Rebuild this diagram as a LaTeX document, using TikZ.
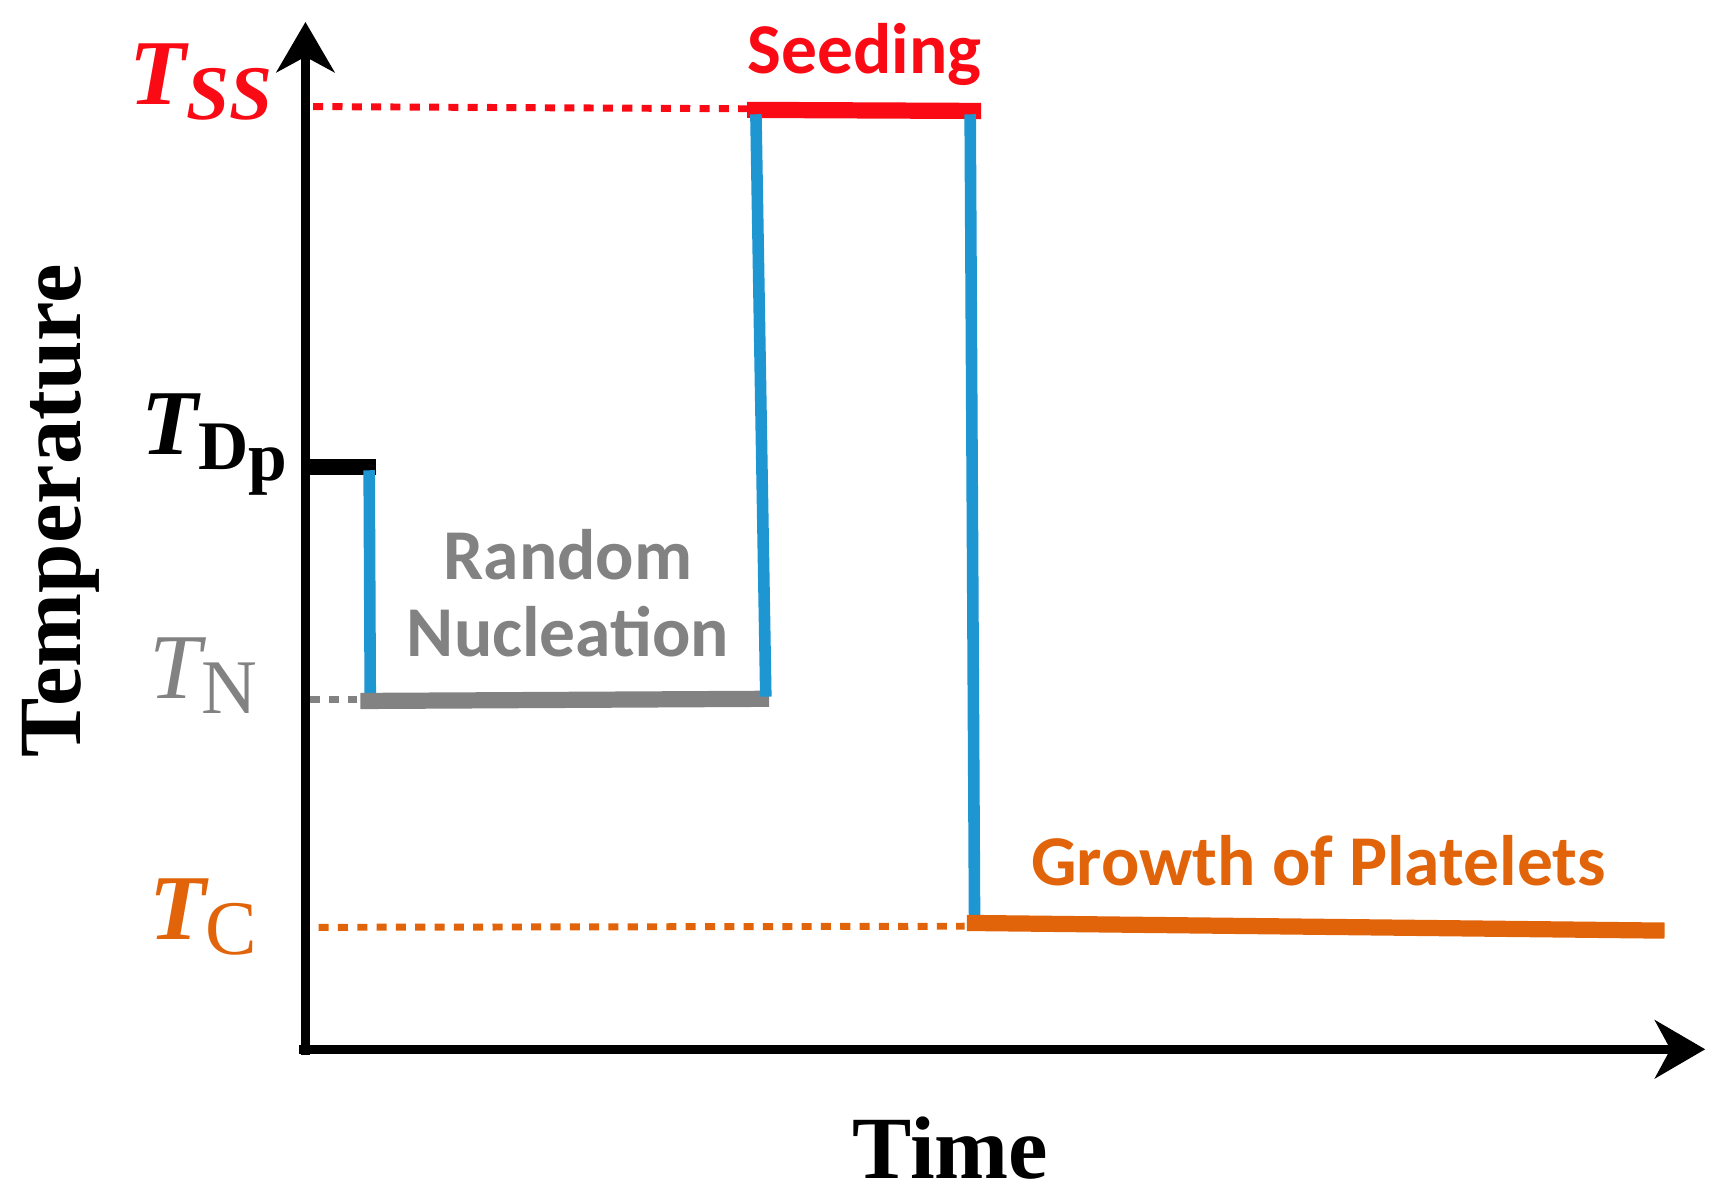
\documentclass[tikz,border=0pt]{standalone}
\usepackage{fontspec}
\setmainfont{Liberation Serif}
\newfontfamily\carl{Carlito}
\usetikzlibrary{arrows.meta}
\definecolor{cblue}{RGB}{30,150,210}
\definecolor{cred}{RGB}{250,10,20}
\definecolor{cgray}{RGB}{130,130,130}
\definecolor{corange}{RGB}{225,100,10}
\begin{document}
\begin{tikzpicture}[x=0.01cm,y=-0.01cm,
  ax/.style={line width=2.2pt,-{Stealth[length=13pt,width=15pt,inset=4pt]}},
  blu/.style={cblue,line width=3pt},
  thick seg/.style={line width=4.2pt},
  dots/.style={line width=1.8pt,dash pattern=on 2.6pt off 2.4pt},
  tl/.style={font=\bfseries\itshape\fontsize{24}{24}\selectfont},
  sl/.style={font=\carl\bfseries\fontsize{18.5}{22}\selectfont,align=center}]
\useasboundingbox (0,0) rectangle (1560,1085);
% axes
\coordinate (o) at (278,960);
\coordinate (ytop) at (278,20);
\coordinate (xend) at (1552,955);
\draw[ax] (o) -- (ytop);
\draw[ax] (272,955) -- (xend);
% levels
\coordinate (ss0) at (285,97); \coordinate (ss1) at (680,99);
\coordinate (sd0) at (680,100); \coordinate (sd1) at (893,101);
\draw[dots,cred] (ss0) -- (ss1);
\draw[thick seg,cred] (sd0) -- (sd1);
\coordinate (dp0) at (278,425); \coordinate (dp1) at (342,425);
\draw[thick seg,black] (dp0) -- (dp1);
\draw[blu] (336,428) -- (337,636);
\coordinate (n0) at (328,638); \coordinate (n1) at (700,636);
\draw[dots,cgray] (282,637) -- (325,637);
\draw[thick seg,cgray] (n0) -- (n1);
\draw[blu] (697,634) -- (688,104);
\draw[blu] (883,104) -- (887,836);
\coordinate (c0) at (290,844); \coordinate (c1) at (878,843);
\draw[dots,corange] (c0) -- (c1);
\draw[thick seg,corange] (880,840) -- (1515,847);
% labels
\node[tl,cred] (tss) at (183,75) {T\raisebox{-0.35ex}{\fontsize{20}{20}\selectfont SS}};
\node[tl] (tdp) at (195,405) {T\raisebox{-0.35ex}{\upshape\fontsize{18}{18}\selectfont D\raisebox{-0.35ex}{p}}};
\node[tl,cgray,font=\itshape\fontsize{24}{24}\selectfont] (tn) at (185,615) {T\raisebox{-0.35ex}{\upshape\fontsize{20}{20}\selectfont N}};
\node[tl,corange] (tc) at (185,835) {T\raisebox{-0.35ex}{\upshape\mdseries\fontsize{20}{20}\selectfont C}};
\node[sl,cred] (seed) at (787,50) {Seeding};
\node[sl,cgray] (rn) at (517,540) {Random\\[-2pt]Nucleation};
\node[sl,corange] (gp) at (1200,783) {Growth of Platelets};
\node[font=\bfseries\fontsize{23}{23}\selectfont,rotate=90] (temp) at (55,465) {Temperature};
\node[font=\bfseries\fontsize{23}{23}\selectfont] (time) at (865,1045) {Time};
\end{tikzpicture}
\end{document}
